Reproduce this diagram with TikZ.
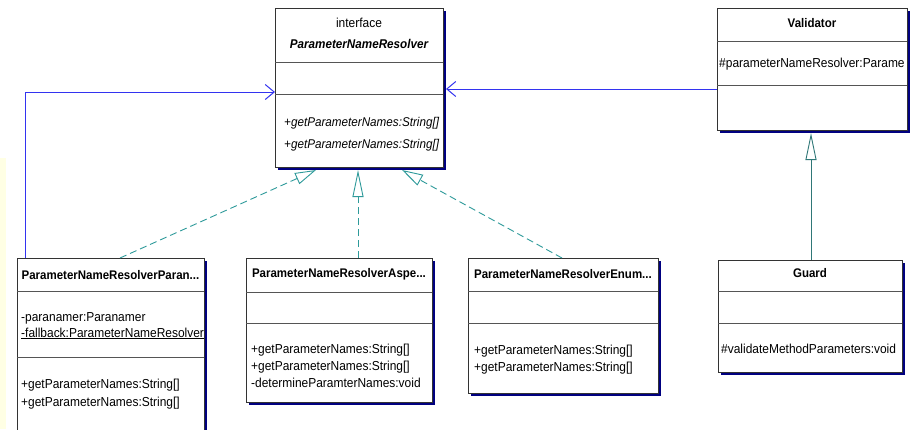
\documentclass[tikz,border=0pt]{standalone}
\usepackage{fontspec}
\setmainfont[FakeStretch=0.92]{Liberation Sans}
\usetikzlibrary{arrows.meta,shadows,calc}
\definecolor{shadowc}{HTML}{000080}
\definecolor{assocc}{HTML}{3333F0}
\definecolor{realc}{HTML}{2E9A9A}
\definecolor{genc}{HTML}{2F7777}
\definecolor{borderc}{HTML}{333333}
\definecolor{divc}{HTML}{555555}
\definecolor{stripc}{HTML}{FFFFE4}
\begin{document}
\begin{tikzpicture}[x=1pt,y=-1pt,
  classbox/.style={draw=borderc, line width=1pt, fill=white, rectangle, inner sep=0pt, outer sep=0pt,
    anchor=north west, drop shadow={shadow xshift=3pt, shadow yshift=-3pt, fill=shadowc, opacity=1}},
  divider/.style={draw=divc, line width=1pt},
  txt/.style={font=\fontsize{13}{15}\selectfont, inner sep=0pt, anchor=base west},
  itxt/.style={font=\fontsize{12.7}{15}\selectfont\itshape, inner sep=0pt, anchor=base west},
  ttl/.style={font=\fontsize{12.5}{15}\selectfont\bfseries, inner sep=0pt, anchor=base},
  assoc/.style={draw=assocc, line width=1pt, -{Straight Barb[length=9pt,width=15pt]}},
  realz/.style={draw=realc, line width=0.9pt, dash pattern=on 7pt off 4pt},
  genz/.style={draw=genc, line width=0.9pt, -{Triangle[length=27pt,width=11pt,fill=white]}}
]
\clip (0,0) rectangle (910,429);
\fill[white] (0,0) rectangle (910,429);
\fill[stripc] (0,158) rectangle (6,429);

% boxes
\node[classbox, minimum width=168pt, minimum height=159pt] (iface) at (275,8) {};
\node[classbox, minimum width=190pt, minimum height=122pt] (val) at (717,8) {};
\node[classbox, minimum width=187pt, minimum height=200pt] (plr) at (17,258) {};
\node[classbox, minimum width=186pt, minimum height=144pt] (asp) at (246,258) {};
\node[classbox, minimum width=190pt, minimum height=135pt] (enm) at (468,258) {};
\node[classbox, minimum width=184pt, minimum height=112pt] (grd) at (718,260) {};

% dividers
\draw[divider] (iface.west |- 0,62) -- (iface.east |- 0,62);
\draw[divider] (iface.west |- 0,94) -- (iface.east |- 0,94);
\draw[divider] (val.west |- 0,41) -- (val.east |- 0,41);
\draw[divider] (val.west |- 0,85) -- (val.east |- 0,85);
\draw[divider] (plr.west |- 0,291) -- (plr.east |- 0,291);
\draw[divider] (plr.west |- 0,357) -- (plr.east |- 0,357);
\draw[divider] (asp.west |- 0,292) -- (asp.east |- 0,292);
\draw[divider] (asp.west |- 0,323) -- (asp.east |- 0,323);
\draw[divider] (enm.west |- 0,291) -- (enm.east |- 0,291);
\draw[divider] (enm.west |- 0,323) -- (enm.east |- 0,323);
\draw[divider] (grd.west |- 0,291) -- (grd.east |- 0,291);
\draw[divider] (grd.west |- 0,323) -- (grd.east |- 0,323);

% interface texts
\node[txt, anchor=base] (t1) at (359,27) {interface};
\node[ttl, font=\fontsize{12.7}{15}\selectfont\bfseries\itshape] (t2) at (359,48) {ParameterNameResolver};
\node[itxt] (t3) at (284,126) {+getParameterNames:String[]};
\node[itxt] (t4) at (284,148) {+getParameterNames:String[]};

% validator texts
\node[ttl] (t5) at (812,27) {Validator};
\node[txt] (t6) at (719,67) {\#parameterNameResolver:Parame};

% left box texts
\node[ttl] (t7) at (110.5,279) {ParameterNameResolverParan...};
\begin{scope}
  \clip (plr.north west) rectangle (plr.south east);
  \node[txt] (t8) at (21,321) {-paranamer:Paranamer};
  \node[txt] (t9) at (21,337) {\underline{-fallback:ParameterNameResolver}};
\end{scope}
\node[txt] (t10) at (21,388) {+getParameterNames:String[]};
\node[txt] (t11) at (21,406) {+getParameterNames:String[]};

% aspect box texts
\node[ttl] (t12) at (339,277) {ParameterNameResolverAspe...};
\node[txt] (t13) at (251,353) {+getParameterNames:String[]};
\node[txt] (t14) at (251,370) {+getParameterNames:String[]};
\node[txt] (t15) at (251,387) {-determineParamterNames:void};

% enum box texts
\node[ttl] (t16) at (563,278) {ParameterNameResolverEnum...};
\node[txt] (t17) at (474,354) {+getParameterNames:String[]};
\node[txt] (t18) at (474,371) {+getParameterNames:String[]};

% guard texts
\node[ttl] (t19) at (810,277) {Guard};
\node[txt] (t20) at (721,353) {\#validateMethodParameters:void};

% connectors
\coordinate (ie) at ([xshift=3pt]iface.east);
\coordinate (lft) at ([xshift=8pt]plr.north west);
\draw[assoc] (lft) |- (iface.west |- 0,92);
\draw[assoc] (val.west |- 0,89) -- (ie |- 0,89);

\coordinate (r1s) at ([xshift=103pt]plr.north west);
\coordinate (r1e) at ([xshift=41pt,yshift=-3pt]iface.south west);
\coordinate (r2s) at ([xshift=112pt]asp.north west);
\coordinate (r2e) at ([xshift=83pt,yshift=-3pt]iface.south west);
\coordinate (r3s) at ([xshift=94pt]enm.north west);
\coordinate (r3e) at ([xshift=127pt,yshift=-3pt]iface.south west);
\draw[realz, -{Triangle[length=21pt,width=12pt,fill=white]}] (r1s) -- (r1e);
\draw[realz, -{Triangle[length=27pt,width=11pt,fill=white]}] (r2s) -- (r2e);
\draw[realz, -{Triangle[length=21pt,width=12pt,fill=white]}] (r3s) -- (r3e);

\coordinate (vb) at ([yshift=-3pt]val.south);
\coordinate (gt) at ([xshift=1pt]grd.north);
\draw[genz] (gt) -- (gt |- vb);
\end{tikzpicture}
\end{document}
